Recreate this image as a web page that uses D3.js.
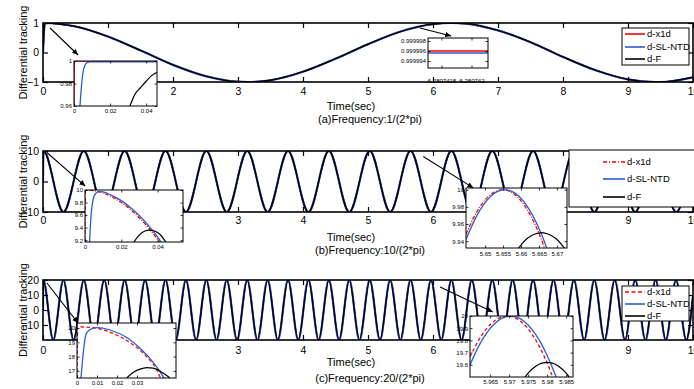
<!DOCTYPE html>
<html>
<head>
<meta charset="utf-8">
<script src="https://cdn.jsdelivr.net/npm/d3@7"></script>
<style>
body { margin: 0; background: #fff; }
svg { display: block; }
</style>
</head>
<body>
<svg width="694" height="389"></svg>
<script>
// ---- data ----
var seriesNames = ["d-x1d", "d-SL-NTD", "d-F"]
var xTicksMain = [0, 1, 2, 3, 4, 5, 6, 7, 8, 9, 10]

// (a) frequency 1/(2*pi)
var timeA = [0, 0.03, 0.5, 1, 1.5, 2, 2.5, 3, 3.14, 3.5, 4, 4.5, 5, 5.5, 6, 6.28, 6.5, 7, 7.5, 8, 8.5, 9, 9.42, 9.5, 10]
var valueA = [0, 1, 0.88, 0.54, 0.07, -0.42, -0.80, -0.99, -1, -0.94, -0.65, -0.21, 0.28, 0.71, 0.96, 1, 0.98, 0.75, 0.35, -0.15, -0.60, -0.91, -1, -1.00, -0.84]
var yTicksA = [-1, 0, 1]

// (b) frequency 10/(2*pi)
var timeB = [0, 0.007, 0.314, 0.628, 0.942, 1.257, 1.571, 1.885, 2.199, 2.513, 2.827, 3.142, 3.456, 3.770, 4.084, 4.398, 4.712,
    5.027, 5.341, 5.655, 5.969, 6.283, 6.597, 6.912, 7.226, 7.540, 7.854, 8.168, 8.482, 8.796, 9.111, 9.425, 9.739, 10]
var valueB = [0, 10, -10, 10, -10, 10, -10, 10, -10, 10, -10, 10, -10, 10, -10, 10, -10,
    10, -10, 10, -10, 10, -10, 10, -10, 10, -10, 10, -10, 10, -10, 10, -10, 8.62]
var yTicksB = [-10, 0, 10]

// (c) frequency 20/(2*pi)
var timeC = [0, 0.005, 0.157, 0.314, 0.471, 0.628, 0.785, 0.942, 1.100, 1.257, 1.414, 1.571, 1.728, 1.885, 2.042, 2.199, 2.356,
    2.513, 2.670, 2.827, 2.985, 3.142, 3.299, 3.456, 3.613, 3.770, 3.927, 4.084, 4.241, 4.398, 4.555, 4.712, 4.869,
    5.027, 5.184, 5.341, 5.498, 5.655, 5.812, 5.969, 6.126, 6.283, 6.440, 6.597, 6.754, 6.912, 7.069, 7.226, 7.383,
    7.540, 7.697, 7.854, 8.011, 8.168, 8.325, 8.482, 8.639, 8.796, 8.954, 9.111, 9.268, 9.425, 9.582, 9.739, 9.896, 10]
var valueC = [0, 20, -20, 20, -20, 20, -20, 20, -20, 20, -20, 20, -20, 20, -20, 20, -20,
    20, -20, 20, -20, 20, -20, 20, -20, 20, -20, 20, -20, 20, -20, 20, -20,
    20, -20, 20, -20, 20, -20, 20, -20, 20, -20, 20, -20, 20, -20, 20, -20,
    20, -20, 20, -20, 20, -20, 20, -20, 20, -20, 20, -20, 20, -20, 20, -20, 9.77]
var yTicksC = [-10, 0, 10, 20]

// zoomed insets: [time, value]
var insetA1Red = [[0, 0.96], [0.0002, 1.0], [0.046, 1.0]]
var insetA1Blue = [[0.0033, 0.96], [0.004, 0.975], [0.005, 0.99], [0.006, 0.996], [0.0075, 0.9988], [0.009, 0.9992], [0.046, 0.9992]]
var insetA1Black = [[0.031, 0.96], [0.034, 0.971], [0.0367, 0.976], [0.040, 0.982], [0.043, 0.987], [0.0461, 0.990]]
var insetA1XTicks = [0, 0.02, 0.04]
var insetA1YTicks = [0.96, 0.98, 1]

var insetA2Red = [[6.28074171, 0.999996], [6.28074211, 0.999996]]
var insetA2Blue = [[6.28074171, 0.9999956], [6.28074211, 0.9999956]]
var insetA2XTicks = [6.2807418, 6.280742]
var insetA2YTicks = [0.999994, 0.999996, 0.999998]

var insetB1Red = [[0, 9.17], [0.0002, 10], [0.005, 9.988], [0.01, 9.950], [0.015, 9.888], [0.02, 9.801], [0.025, 9.689],
    [0.03, 9.553], [0.035, 9.394], [0.04, 9.211], [0.042, 9.13]]
var insetB1Blue = [[0.0025, 9.15], [0.003, 9.45], [0.0035, 9.65], [0.0045, 9.85], [0.006, 9.95], [0.008, 9.975], [0.010, 9.97],
    [0.015, 9.91], [0.02, 9.83], [0.025, 9.72], [0.03, 9.59], [0.035, 9.43], [0.04, 9.25], [0.0425, 9.14]]
var insetB1Black = [[0.027, 9.17], [0.029, 9.25], [0.031, 9.31], [0.033, 9.345], [0.0355, 9.36], [0.038, 9.35], [0.040, 9.32],
    [0.042, 9.27], [0.0445, 9.17]]
var insetB1XTicks = [0, 0.02, 0.04]
var insetB1YTicks = [9.2, 9.4, 9.6, 9.8, 10]

var insetB2Red = [[5.6447, 9.948], [5.6469, 9.968], [5.6489, 9.982], [5.6509, 9.992], [5.6529, 9.998], [5.6549, 10],
    [5.6569, 9.998], [5.6589, 9.992], [5.6609, 9.982], [5.6629, 9.968], [5.6649, 9.950], [5.6665, 9.9327], [5.6669, 9.928]]
var insetB2Blue = [[5.6447, 9.942], [5.6475, 9.968], [5.6495, 9.982], [5.6515, 9.992], [5.6535, 9.998], [5.6555, 10],
    [5.6575, 9.998], [5.6595, 9.992], [5.6615, 9.982], [5.6635, 9.968], [5.6655, 9.950], [5.6671, 9.9327], [5.6675, 9.928]]
var insetB2Black = [[5.6582, 9.925], [5.6597, 9.934], [5.6617, 9.943], [5.6637, 9.948], [5.6657, 9.95], [5.6677, 9.948],
    [5.6697, 9.943], [5.6717, 9.934], [5.6732, 9.925]]
var insetB2XTicks = [5.65, 5.655, 5.66, 5.665, 5.67]
var insetB2YTicks = [9.94, 9.96, 9.98, 10]

var insetC1Red = [[0, 16.5], [0.0003, 20.08], [0.0056, 20.05], [0.0116, 19.93], [0.0198, 19.51], [0.0282, 18.81],
    [0.0348, 18.0], [0.0399, 17.07], [0.0418, 16.49]]
var insetC1Blue = [[0.002, 16.5], [0.0032, 18.35], [0.0044, 19.51], [0.0062, 19.86], [0.0099, 20.02], [0.0165, 19.86],
    [0.0249, 19.33], [0.0315, 18.58], [0.0381, 17.6], [0.0415, 16.95], [0.0435, 16.49]]
var insetC1Black = [[0.0249, 16.5], [0.0282, 16.9], [0.0315, 17.12], [0.0348, 17.23], [0.0381, 17.19], [0.0424, 16.9], [0.0465, 16.5]]
var insetC1XTicks = [0, 0.01, 0.02, 0.03]
var insetC1YTicks = [17, 18, 19, 20]

var insetC2Red = [[5.9597, 19.664], [5.962, 19.803], [5.964, 19.894], [5.966, 19.957], [5.968, 19.992], [5.9695, 20],
    [5.971, 19.992], [5.973, 19.957], [5.975, 19.894], [5.977, 19.803], [5.979, 19.684], [5.981, 19.537], [5.982, 19.453]]
var insetC2Blue = [[5.9597, 19.599], [5.962, 19.753], [5.964, 19.857], [5.966, 19.932], [5.968, 19.980], [5.9704, 20],
    [5.972, 19.991], [5.974, 19.955], [5.976, 19.890], [5.978, 19.798], [5.980, 19.677], [5.982, 19.529], [5.983, 19.444]]
var insetC2Black = [[5.9734, 19.464], [5.975, 19.531], [5.976, 19.563], [5.977, 19.588], [5.978, 19.606], [5.979, 19.616],
    [5.98, 19.62], [5.981, 19.616], [5.982, 19.606], [5.983, 19.588], [5.984, 19.563], [5.985, 19.531], [5.9866, 19.464]]
var insetC2XTicks = [5.965, 5.97, 5.975, 5.98, 5.985]
var insetC2YTicks = [19.6, 19.7, 19.8, 19.9, 20]

// ---- drawing ----
var svg = d3.select("svg")
var FONT = "'Liberation Sans', Arial, Helvetica, sans-serif"
var RED = "#ff0000", BLUE = "#2b5bd6", BLACK = "#000000"
var fmt = d3.format(".10~g")

svg.append("defs").append("marker")
    .attr("id", "arrow")
    .attr("viewBox", "0 0 10 10")
    .attr("refX", 10).attr("refY", 5)
    .attr("markerWidth", 6).attr("markerHeight", 6)
    .attr("markerUnits", "userSpaceOnUse")
    .attr("orient", "auto")
    .append("path").attr("d", "M0,0.5 L10,5 L0,9.5 Z").attr("fill", "#000")

var nClip = 0
function panel(xDom, xRng, yDom, yRng) {
    var x = d3.scaleLinear().domain(xDom).range(xRng)
    var y = d3.scaleLinear().domain(yDom).range(yRng)
    var g = svg.append("g")
    var id = "clip" + (nClip++)
    g.append("clipPath").attr("id", id).append("rect")
        .attr("x", xRng[0]).attr("y", yRng[1])
        .attr("width", xRng[1] - xRng[0]).attr("height", yRng[0] - yRng[1])
    g.append("rect")
        .attr("x", xRng[0]).attr("y", yRng[1])
        .attr("width", xRng[1] - xRng[0]).attr("height", yRng[0] - yRng[1])
        .attr("fill", "#fff")
    var plot = g.append("g").attr("clip-path", "url(#" + id + ")")
    return { x: x, y: y, g: g, plot: plot }
}

function curve(p, data, color, width, dash) {
    var line = d3.line()
        .x(function(d) { return p.x(d[0]) })
        .y(function(d) { return p.y(d[1]) })
        .curve(d3.curveMonotoneX)
    p.plot.append("path")
        .datum(data)
        .attr("d", line)
        .attr("fill", "none")
        .attr("stroke", color)
        .attr("stroke-width", width)
        .attr("stroke-dasharray", dash || null)
        .attr("stroke-linejoin", "round")
}

function axes(p, o) {
    var xr = p.x.range(), yr = p.y.range(), t = o.tick
    function style(sel) {
        sel.attr("font-size", o.font).attr("font-family", FONT)
        sel.select(".domain").remove()
        sel.selectAll("line").attr("stroke", "#000").attr("stroke-width", o.tw)
        sel.selectAll("text").attr("fill", "#000")
    }
    p.g.append("g").attr("transform", "translate(0," + yr[0] + ")")
        .call(d3.axisBottom(p.x).tickValues(o.xt).tickSizeInner(-t).tickSizeOuter(0).tickPadding(o.xp).tickFormat(fmt))
        .call(style)
    p.g.append("g").attr("transform", "translate(0," + yr[1] + ")")
        .call(d3.axisTop(p.x).tickValues(o.xt).tickSizeInner(-t).tickSizeOuter(0).tickFormat(""))
        .call(style)
    p.g.append("g").attr("transform", "translate(" + xr[0] + ",0)")
        .call(d3.axisLeft(p.y).tickValues(o.yt).tickSizeInner(-t).tickSizeOuter(0).tickPadding(o.yp).tickFormat(fmt))
        .call(style)
    p.g.append("g").attr("transform", "translate(" + xr[1] + ",0)")
        .call(d3.axisRight(p.y).tickValues(o.yt).tickSizeInner(-t).tickSizeOuter(0).tickFormat(""))
        .call(style)
    p.g.append("rect")
        .attr("x", xr[0]).attr("y", yr[1])
        .attr("width", xr[1] - xr[0]).attr("height", yr[0] - yr[1])
        .attr("fill", "none").attr("stroke", "#000").attr("stroke-width", o.bw)
}

function arrow(p, a) {
    svg.append("line")
        .attr("x1", p.x(a[0])).attr("y1", p.y(a[1]))
        .attr("x2", p.x(a[2])).attr("y2", p.y(a[3]))
        .attr("stroke", "#000").attr("stroke-width", 1.1)
        .attr("marker-end", "url(#arrow)")
}

function legend(box, lx0, lx1, tx, ys, dashes, font) {
    var g = svg.append("g")
    g.append("rect").attr("x", box[0]).attr("y", box[1]).attr("width", box[2]).attr("height", box[3])
        .attr("fill", "#fff").attr("stroke", "#000").attr("stroke-width", 1)
    var colors = [RED, BLUE, BLACK]
    seriesNames.forEach(function(name, i) {
        g.append("line").attr("x1", lx0).attr("x2", lx1).attr("y1", ys[i]).attr("y2", ys[i])
            .attr("stroke", colors[i]).attr("stroke-width", 1.6).attr("stroke-dasharray", dashes[i])
        g.append("text").attr("x", tx).attr("y", ys[i]).attr("dy", "0.35em")
            .attr("font-family", FONT).attr("font-size", font).attr("fill", "#000").text(name)
    })
}

function labels(cy, timeY, titleY, title) {
    svg.append("text")
        .attr("transform", "translate(27," + cy + ")rotate(-90)")
        .attr("text-anchor", "middle")
        .attr("font-family", FONT).attr("font-size", 11).text("Differential tracking")
    svg.append("text")
        .attr("x", 351).attr("y", timeY).attr("text-anchor", "middle")
        .attr("font-family", FONT).attr("font-size", 11).text("Time(sec)")
    svg.append("text")
        .attr("x", 370).attr("y", titleY).attr("text-anchor", "middle")
        .attr("font-family", FONT).attr("font-size", 11).text(title)
}

function mainPanel(times, values, yDom, yRng, yTicks, xPad) {
    var p = panel([0, 10], [43, 693], yDom, yRng)
    var data = d3.zip(times, values)
    curve(p, data, RED, 1.6)
    curve(p, data, BLUE, 2.2)
    curve(p, data, BLACK, 1.4)
    axes(p, { xt: xTicksMain, yt: yTicks, tick: 5, font: 10.5, xp: xPad, yp: 4, tw: 1.2, bw: 1.6 })
    return p
}

function inset(xDom, xRng, yDom, yRng, xt, yt, red, blue, black, redDash, xPad) {
    var p = panel(xDom, xRng, yDom, yRng)
    if (red) curve(p, red, RED, 1.3, redDash)
    if (blue) curve(p, blue, BLUE, 1.3)
    if (black) curve(p, black, BLACK, 1.2)
    axes(p, { xt: xt, yt: yt, tick: 2.5, font: 6, xp: xPad, yp: 2, tw: 0.8, bw: 1 })
    return p
}

// ---- panel (a)
var pa = mainPanel(timeA, valueA, [-1, 1], [82, 23], yTicksA, 6)
labels(52.5, 110, 123, "(a)Frequency:1/(2*pi)")
inset([0, 0.046], [74, 157], [0.96, 1.0], [106, 61], insetA1XTicks, insetA1YTicks,
    insetA1Red, insetA1Blue, insetA1Black, null, 3)
inset([6.28074171, 6.28074211], [428, 488], [0.9999926, 0.9999986], [68, 38], insetA2XTicks, insetA2YTicks,
    insetA2Red, insetA2Blue, null, null, 11)
arrow(pa, [0.108, 0.83, 0.54, -0.085])
arrow(pa, [5.80, 0.83, 6.28, 0.56])
legend([622, 28, 67, 37], 625, 645, 647, [34, 47, 59], [null, null, null], 9.5)

// ---- panel (b)
var pb = mainPanel(timeB, valueB, [-10, 10], [212, 151], yTicksB, 5)
labels(181.5, 241, 254, "(b)Frequency:10/(2*pi)")
inset([0, 0.054], [85, 183], [9.17, 10.0], [242, 190], insetB1XTicks, insetB1YTicks,
    insetB1Red, insetB1Blue, insetB1Black, "4,1.5,1,1.5", 3)
inset([5.6447, 5.6728], [466, 567], [9.932, 10.002], [248, 188], insetB2XTicks, insetB2YTicks,
    insetB2Red, insetB2Blue, insetB2Black, "4,1.5,1,1.5", 4)
arrow(pb, [0.06, 9.5, 0.65, -1.5])
arrow(pb, [5.85, 8.2, 6.62, -2.1])
legend([569, 150, 140, 57], 603, 625, 627, [162, 179, 197], ["4,2,1,2", null, null], 9.5)

// ---- panel (c)
var pc = mainPanel(timeC, valueC, [-20, 20], [340, 280], yTicksC, 7)
labels(310, 366, 382, "(c)Frequency:20/(2*pi)")
inset([0, 0.0495], [77, 176], [16.5, 20.35], [378, 323], insetC1XTicks, insetC1YTicks,
    insetC1Red, insetC1Blue, insetC1Black, "3.5,2.5", 3)
inset([5.9597, 5.9868], [470, 573], [19.5, 20.0], [377, 316], insetC2XTicks, insetC2YTicks,
    insetC2Red, insetC2Blue, insetC2Black, "3.5,2.5", 3)
arrow(pc, [0.06, 18, 0.54, -8.7])
arrow(pc, [6.11, 15.3, 6.92, -1.3])
legend([622, 286, 67, 35], 625, 645, 647, [292, 304, 316], ["4,2.5", null, null], 9.5)
</script>
</body>
</html>
